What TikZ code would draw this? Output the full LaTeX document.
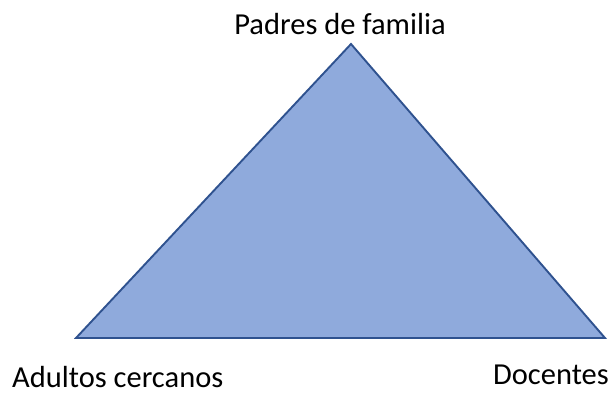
\documentclass[tikz,border=0pt]{standalone}
\usepackage{fontspec}
\setmainfont{Carlito}
\definecolor{trifill}{HTML}{8FAADC}
\definecolor{triline}{HTML}{2F528F}
\begin{document}
\begin{tikzpicture}[x=1pt,y=-1pt,
  lbl/.style={font=\fontsize{30.5}{34}\selectfont, inner sep=0pt, text=black}]
\useasboundingbox (0,0) rectangle (612,394);
\coordinate (A) at (351,44);
\coordinate (B) at (76,338);
\coordinate (C) at (605,338);
\draw[triline, line width=1.9pt, fill=trifill, line join=miter] (A) -- (B) -- (C) -- cycle;
\node[lbl, anchor=base] (top) at (340,34) {Padres de familia};
\node[lbl, anchor=base west] (left) at (12,387) {Adultos cercanos};
\node[lbl, anchor=base east] (right) at (609,384) {Docentes};
\end{tikzpicture}
\end{document}
